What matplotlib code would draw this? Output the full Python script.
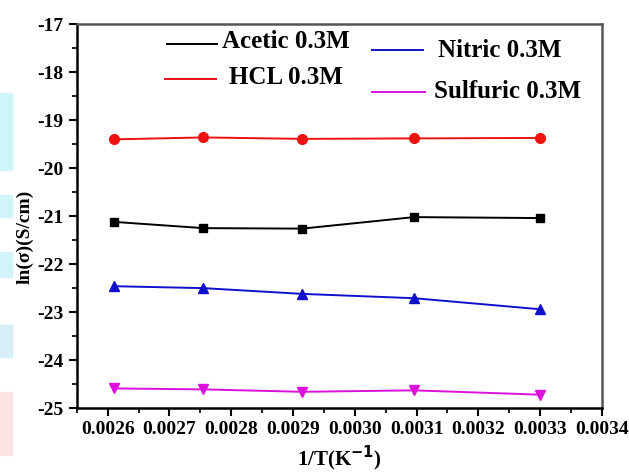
import numpy as np
import matplotlib.pyplot as plt
from matplotlib.patches import Rectangle

plt.rcParams['font.family'] = ['Liberation Serif', 'DejaVu Serif']
plt.rcParams['font.weight'] = 'bold'

# 1/T in K^-1 (T = 383, 363, 343, 323, 303 K)
inv_T = [0.002611, 0.002755, 0.002915, 0.003096, 0.003300]

# ln(sigma) for each acid at 0.3M
acetic = [-21.12, -21.25, -21.26, -21.02, -21.04]
hcl = [-19.40, -19.36, -19.39, -19.38, -19.37]
nitric = [-22.46, -22.50, -22.62, -22.71, -22.94]
sulfuric = [-24.59, -24.61, -24.66, -24.63, -24.72]

x_ticks = [0.0026, 0.0027, 0.0028, 0.0029, 0.0030, 0.0031, 0.0032, 0.0033, 0.0034]
y_ticks = [-25, -24, -23, -22, -21, -20, -19, -18, -17]

fig = plt.figure(figsize=(6.29, 4.74), dpi=100)
ax = fig.add_axes([0.122, 0.139, 0.835, 0.81])

# faint coloured strips along the left edge of the page
for y0, h, c in [(0.641, 0.162, '#cdf6fb'), (0.542, 0.046, '#d3f3fa'),
                 (0.416, 0.053, '#d3f3fa'), (0.247, 0.068, '#d5eef8'),
                 (0.040, 0.133, '#fde3e3')]:
    fig.patches.append(Rectangle((0, y0), 0.019, h, transform=fig.transFigure,
                                 color=c, zorder=0))

l1, = ax.plot(inv_T, acetic, '-s', color='black', lw=1.4, ms=6)
l2, = ax.plot(inv_T, hcl, '-o', color='#ee1111', lw=1.4, ms=7)
l3, = ax.plot(inv_T, nitric, '-^', color='#1010cc', lw=1.4, ms=7)
l4, = ax.plot(inv_T, sulfuric, '-v', color='#dd10dd', lw=1.4, ms=7)

ax.set_xlim(0.00255, 0.0034)
ax.set_ylim(-25, -17)
ax.set_xticks(x_ticks)
ax.set_xticklabels(['%.4f' % v for v in x_ticks])
ax.set_yticks(y_ticks)
ax.set_yticklabels(['-%d' % abs(v) for v in y_ticks])
ax.set_xticks(np.arange(0.00255, 0.0034, 0.0001), minor=True)
ax.set_yticks(np.arange(-24.5, -17, 1.0), minor=True)
ax.tick_params(axis='both', which='major', direction='out', length=6, width=1.5,
               labelsize=14, top=False, right=False)
ax.tick_params(axis='both', which='minor', direction='out', length=3.5, width=1.2,
               top=False, right=False)
for s in ax.spines.values():
    s.set_linewidth(1.8)
ax.spines['top'].set_color('#555555')
ax.spines['right'].set_color('#555555')

ax.set_xlabel('1/T(K$^{\\mathbf{-1}}$)', fontsize=15, fontweight='bold')
ax.set_ylabel('ln(\u03c3)(S/cm)', fontsize=14, fontweight='bold')
ax.yaxis.set_label_coords(-0.083, 0.445)

# hand-placed legend entries
legend_items = [
    (l1, 'Acetic 0.3M', 0.171, 0.268, 0.948, 0.276, 0.956),
    (l2, 'HCL 0.3M', 0.168, 0.265, 0.857, 0.290, 0.862),
    (l3, 'Nitric 0.3M', 0.562, 0.659, 0.932, 0.688, 0.932),
    (l4, 'Sulfuric 0.3M', 0.562, 0.663, 0.823, 0.680, 0.825),
]
for line, label, xa, xb, yl, xt, yt in legend_items:
    ax.plot([xa, xb], [yl, yl], color=line.get_color(), lw=1.4,
            transform=ax.transAxes, clip_on=False)
    ax.text(xt, yt, label, transform=ax.transAxes, fontsize=18,
            fontweight='bold', va='center', ha='left')

fig.savefig('out.png', dpi=100)
